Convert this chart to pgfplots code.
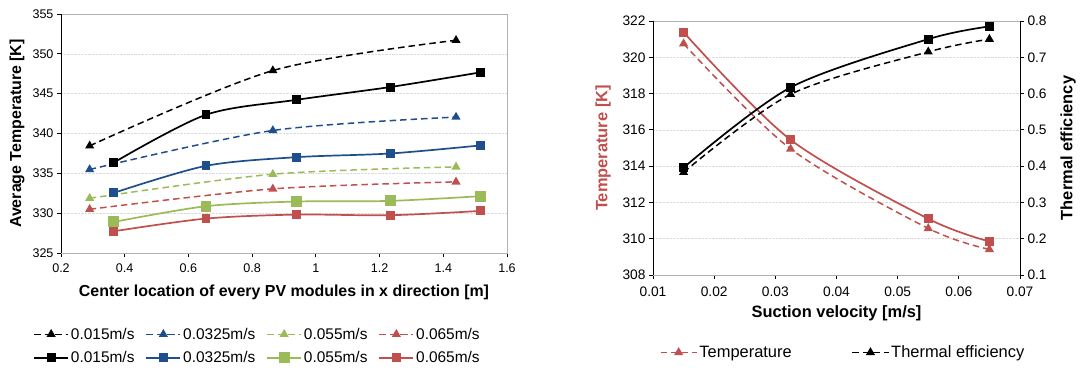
\documentclass[border=0pt]{standalone}
\usepackage{pgfplots}
\pgfplotsset{compat=1.18}
\usepackage{fontspec}
\setmainfont{Liberation Sans}
\definecolor{cblue}{RGB}{31,78,140}
\definecolor{cred}{RGB}{192,80,77}
\definecolor{cgreen}{RGB}{155,187,89}
\begin{document}
\begin{tikzpicture}
\useasboundingbox (0bp,0bp) rectangle (1080bp,370bp);
\pgfplotsset{
  every axis/.append style={
    scale only axis,
    /pgf/number format/assume math mode=true,
    tick style={black, line width=0.8bp},
    tick align=outside,
    major tick length=4bp,
    axis line style={gray!60, line width=0.6bp},
    grid style={densely dotted, gray!28, line width=0.6bp},
    legend style={draw=none, fill=none,
      /tikz/every even column/.append style={column sep=9bp}},
    legend image code/.code={\draw[mark repeat=2,mark phase=2] plot coordinates {(0bp,0bp)(17bp,0bp)(34bp,0bp)};},
  },
  sol/.style={solid, line width=1.7bp, smooth, tension=0.5, mark=square*, mark size=3.6bp, mark options={solid}},
  das/.style={line width=1.5bp, smooth, tension=0.5, dash pattern=on 6.5bp off 4bp, mark=triangle*, mark size=3.8bp, mark options={solid}},
}
% ---------------- Left chart ----------------
\begin{axis}[
  at={(61bp,117bp)}, anchor=south west, width=446bp, height=239bp,
  font=\fontsize{12.6}{14}\selectfont,
  label style={font=\fontsize{16}{18}\selectfont\bfseries},
  xmin=0.2, xmax=1.6, ymin=325, ymax=355,
  xtick={0.2,0.4,0.6,0.8,1,1.2,1.4,1.6},
  ytick={325,330,335,340,345,350,355},
  xticklabel style={yshift=-3bp},
  xtick pos=left, ytick pos=left,
  ymajorgrids,
  xlabel={Center location of every PV modules in x direction [m]},
  xlabel style={at={(axis description cs:0.5,-0.163)}, anchor=center},
  ylabel={Average Temperature [K]},
  ylabel style={at={(axis description cs:-0.0987,0.5)}, anchor=center},
  legend columns=4,
  legend style={at={(0.4406,-0.296)}, anchor=north, row sep=7bp,
    font=\fontsize{15.5}{17}\selectfont},
]
\addplot[das, black] coordinates {(0.29,338.45)(0.865,347.9)(1.44,351.7)};
\addlegendentry{0.015m/s}
\addplot[das, cblue] coordinates {(0.29,335.48)(0.865,340.38)(1.44,342.06)};
\addlegendentry{0.0325m/s}
\addplot[das, cgreen] coordinates {(0.29,331.87)(0.865,334.89)(1.44,335.81)};
\addlegendentry{0.055m/s}
\addplot[das, cred] coordinates {(0.29,330.49)(0.865,333.05)(1.44,333.93)};
\addlegendentry{0.065m/s}
\addplot[sol, black] coordinates {(0.366,336.36)(0.655,342.35)(0.94,344.23)(1.233,345.83)(1.516,347.67)};
\addlegendentry{0.015m/s}
\addplot[sol, cblue] coordinates {(0.366,332.55)(0.655,335.94)(0.94,337.03)(1.233,337.49)(1.516,338.5)};
\addlegendentry{0.0325m/s}
\addplot[sol, cgreen, mark size=4.6bp] coordinates {(0.366,328.9)(0.655,330.87)(0.94,331.46)(1.233,331.54)(1.516,332.13)};
\addlegendentry{0.055m/s}
\addplot[sol, cred] coordinates {(0.366,327.73)(0.655,329.32)(0.94,329.82)(1.233,329.74)(1.516,330.28)};
\addlegendentry{0.065m/s}
\draw[black, line width=0.8bp] (rel axis cs:0,1) -- (rel axis cs:0,0) -- (rel axis cs:1,0);
\end{axis}
% ---------------- Right chart: temperature ----------------
\begin{axis}[
  at={(653bp,95bp)}, anchor=south west, width=367bp, height=254bp,
  font=\fontsize{13.8}{15}\selectfont,
  label style={font=\fontsize{16.5}{18}\selectfont\bfseries},
  xmin=0.01, xmax=0.07, ymin=308, ymax=322,
  xtick={0.01,0.02,0.03,0.04,0.05,0.06,0.07},
  scaled x ticks=false,
  xticklabel style={/pgf/number format/fixed, /pgf/number format/precision=2, yshift=-4bp},
  ytick={308,310,312,314,316,318,320,322},
  xtick pos=left, ytick pos=left,
  ymajorgrids,
  xlabel={Suction velocity [m/s]},
  xlabel style={at={(axis description cs:0.5,-0.15)}, anchor=center},
  ylabel={Temperature [K]},
  ylabel style={text=cred, at={(axis description cs:-0.136,0.5)}, anchor=center},
]
\addplot[sol, cred] coordinates {(0.015,321.38)(0.0325,315.45)(0.055,311.1)(0.065,309.85)};
\addplot[das, cred] coordinates {(0.015,320.75)(0.0325,314.95)(0.055,310.57)(0.065,309.41)};
\draw[black, line width=0.8bp] (rel axis cs:0,1) -- (rel axis cs:0,0) -- (rel axis cs:1,0);
\end{axis}
% ---------------- Right chart: thermal efficiency ----------------
\begin{axis}[
  at={(653bp,95bp)}, anchor=south west, width=367bp, height=254bp,
  font=\fontsize{13.8}{15}\selectfont,
  label style={font=\fontsize{16.5}{18}\selectfont\bfseries},
  xmin=0.01, xmax=0.07, ymin=0.1, ymax=0.8,
  axis x line=none,
  axis y line*=right,
  axis line style={black, line width=0.8bp},
  ytick={0.1,0.2,0.3,0.4,0.5,0.6,0.7,0.8},
  yticklabel style={/pgf/number format/fixed, /pgf/number format/precision=1},
  ylabel={Thermal efficiency},
  ylabel style={at={(axis description cs:1.131,0.5)}, anchor=center, rotate=0},
  legend columns=2,
  legend image code/.code={\draw[mark repeat=2,mark phase=2] plot coordinates {(0bp,0bp)(18bp,0bp)(36bp,0bp)};},
  legend style={at={(0.518,-0.262)}, anchor=north,
    font=\fontsize{16.5}{18}\selectfont,
    /tikz/every even column/.append style={column sep=58bp}},
]
\addlegendimage{das, cred}
\addlegendentry{Temperature}
\addplot[sol, black, forget plot] coordinates {(0.015,0.396)(0.0325,0.617)(0.055,0.75)(0.065,0.785)};
\addplot[das, black] coordinates {(0.015,0.383)(0.0325,0.598)(0.055,0.715)(0.065,0.75)};
\addlegendentry{Thermal efficiency}
\end{axis}
\end{tikzpicture}
\end{document}
